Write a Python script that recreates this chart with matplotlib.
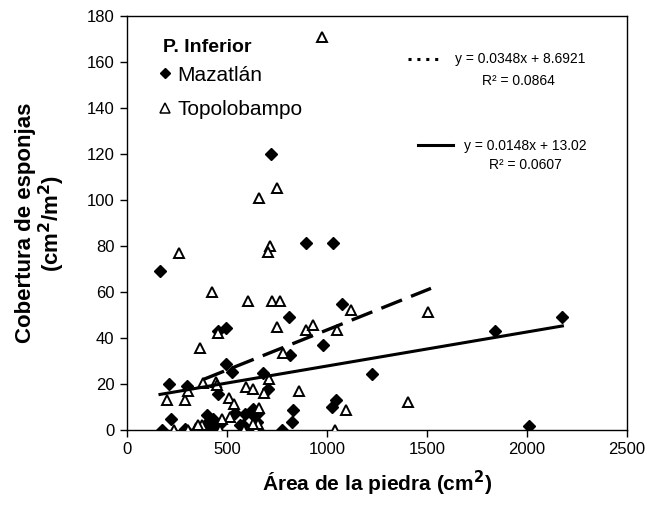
import matplotlib
matplotlib.use("Agg")
import matplotlib.pyplot as plt
from matplotlib.lines import Line2D
import numpy as np

plt.rcParams['font.family'] = ['Liberation Sans', 'DejaVu Sans']
plt.rcParams['lines.scale_dashes'] = False

# Mazatlán (diamonds)
maz_x = [165, 720, 893, 1032, 1075, 808, 453, 497, 815, 978, 497, 523, 680, 1223,
         210, 298, 705, 455, 1045, 1025, 218, 832, 823, 773, 173, 290, 398, 407,
         423, 540, 590, 632, 648, 657, 578, 565, 632, 467, 1840, 2177, 2012, 430, 413]
maz_y = [69, 120, 81.5, 81.5, 54.6, 49, 43, 44.5, 32.5, 37, 28.5, 25.4, 25, 24.3,
         20, 19, 17.7, 15.5, 13, 10, 5, 8.5, 3.6, 0, 0, 0.5, 6.5, 3.6,
         1.5, 7.2, 7, 6.5, 3.6, 7.2, 2.2, 2, 9, 2.6, 43, 49, 1.8, 5, 0.5]

# Topolobampo (triangles)
top_x = [977, 748, 660, 262, 713, 705, 425, 607, 725, 765, 1118, 1507, 752, 893,
         928, 1048, 455, 365, 778, 200, 292, 305, 382, 443, 452, 597, 628, 685,
         710, 862, 512, 537, 660, 515, 475, 375, 1093, 1405, 233, 307, 345, 463,
         585, 646, 655, 1040, 357, 630]
top_y = [171, 105, 101, 77, 80, 77.5, 60, 56, 56, 56, 52, 51.4, 45, 43.5,
         45.6, 43.3, 42.2, 35.5, 33.5, 13, 13, 17, 20.5, 21, 19.6, 18.5, 17.7, 16.2,
         22, 17, 13.8, 11.3, 9.4, 5.6, 5, 2.3, 8.8, 12.3, 0, 0, 1, 0,
         0, 0, 2.4, 0, 2, 2.6]

# Trend lines (as reported on the chart)
trend_top_coef = (0.0348, 8.6921)
trend_top_r2 = 0.0864
trend_top_range = (382, 1520)
trend_maz_coef = (0.0148, 13.02)
trend_maz_r2 = 0.0607
trend_maz_range = (165, 2177)

x_ticks = [0, 500, 1000, 1500, 2000, 2500]
y_ticks = [0, 20, 40, 60, 80, 100, 120, 140, 160, 180]

fig = plt.figure(figsize=(6.52, 5.19), dpi=100)
ax = fig.add_axes([127/652, 1-430/519, 500/652, 414/519])

ax.plot(maz_x, maz_y, linestyle='none', marker='D', markersize=6.2,
        color='black', markeredgecolor='black', zorder=3)
ax.plot(top_x, top_y, linestyle='none', marker='^', markersize=7.8,
        markerfacecolor='white', markeredgecolor='black', markeredgewidth=1.4, zorder=3)

tx = np.array(trend_top_range)
ax.plot(tx, trend_top_coef[0]*tx + trend_top_coef[1], color='black', lw=2.4,
        dashes=(16, 7), zorder=4)
mx = np.array(trend_maz_range)
ax.plot(mx, trend_maz_coef[0]*mx + trend_maz_coef[1], color='black', lw=2.2, zorder=4)

ax.set_xlim(0, 2500)
ax.set_ylim(0, 180)
ax.set_xticks(x_ticks)
ax.set_yticks(y_ticks)
ax.tick_params(direction='out', length=5, width=1, labelsize=12, pad=4)
for s in ax.spines.values():
    s.set_linewidth(1)
    s.set_color('black')

ax.set_xlabel('Área de la piedra (cm$^\\mathbf{2}$)', fontsize=15, fontweight='bold', labelpad=8)
ax.set_ylabel('Cobertura de esponjas\n(cm$^\\mathbf{2}$/m$^\\mathbf{2}$)', fontsize=16,
              fontweight='bold', labelpad=14, linespacing=1.05)

# series legend
ax.text(0.072, 0.925, 'P. Inferior', transform=ax.transAxes, fontsize=14,
        fontweight='bold', ha='left', va='center')
h1 = Line2D([], [], linestyle='none', marker='D', markersize=5.2, color='black')
h2 = Line2D([], [], linestyle='none', marker='^', markersize=6.5, markerfacecolor='white',
            markeredgecolor='black', markeredgewidth=1.1)
leg = ax.legend([h1, h2], ['Mazatlán', 'Topolobampo'],
                loc='upper left', bbox_to_anchor=(0.065, 0.880), frameon=False,
                fontsize=15, handlelength=0.55, handletextpad=0.3, labelspacing=0.74,
                borderaxespad=0, borderpad=0)
ax.add_artist(leg)

# trend legends
t1 = Line2D([], [], color='black', lw=2.2, dashes=(2.2, 4.2))
t2 = Line2D([], [], color='black', lw=2.2)
lab1 = f'y = {trend_top_coef[0]}x + {trend_top_coef[1]}'
lab2 = f'y = {trend_maz_coef[0]}x + {trend_maz_coef[1]}'
leg2 = ax.legend([t1], [lab1], loc='upper left', bbox_to_anchor=(0.562, 0.912),
                 frameon=False, fontsize=10, handlelength=2.5, handletextpad=0.9,
                 borderaxespad=0, borderpad=0)
ax.add_artist(leg2)
leg3 = ax.legend([t2], [lab2], loc='upper left', bbox_to_anchor=(0.582, 0.703),
                 frameon=False, fontsize=10, handlelength=2.5, handletextpad=0.8,
                 borderaxespad=0, borderpad=0)
ax.text(0.782, 0.843, f'R² = {trend_top_r2}', transform=ax.transAxes, fontsize=10,
        ha='center', va='center')
ax.text(0.796, 0.64, f'R² = {trend_maz_r2}', transform=ax.transAxes, fontsize=10,
        ha='center', va='center')

fig.savefig('out.png', dpi=100)
